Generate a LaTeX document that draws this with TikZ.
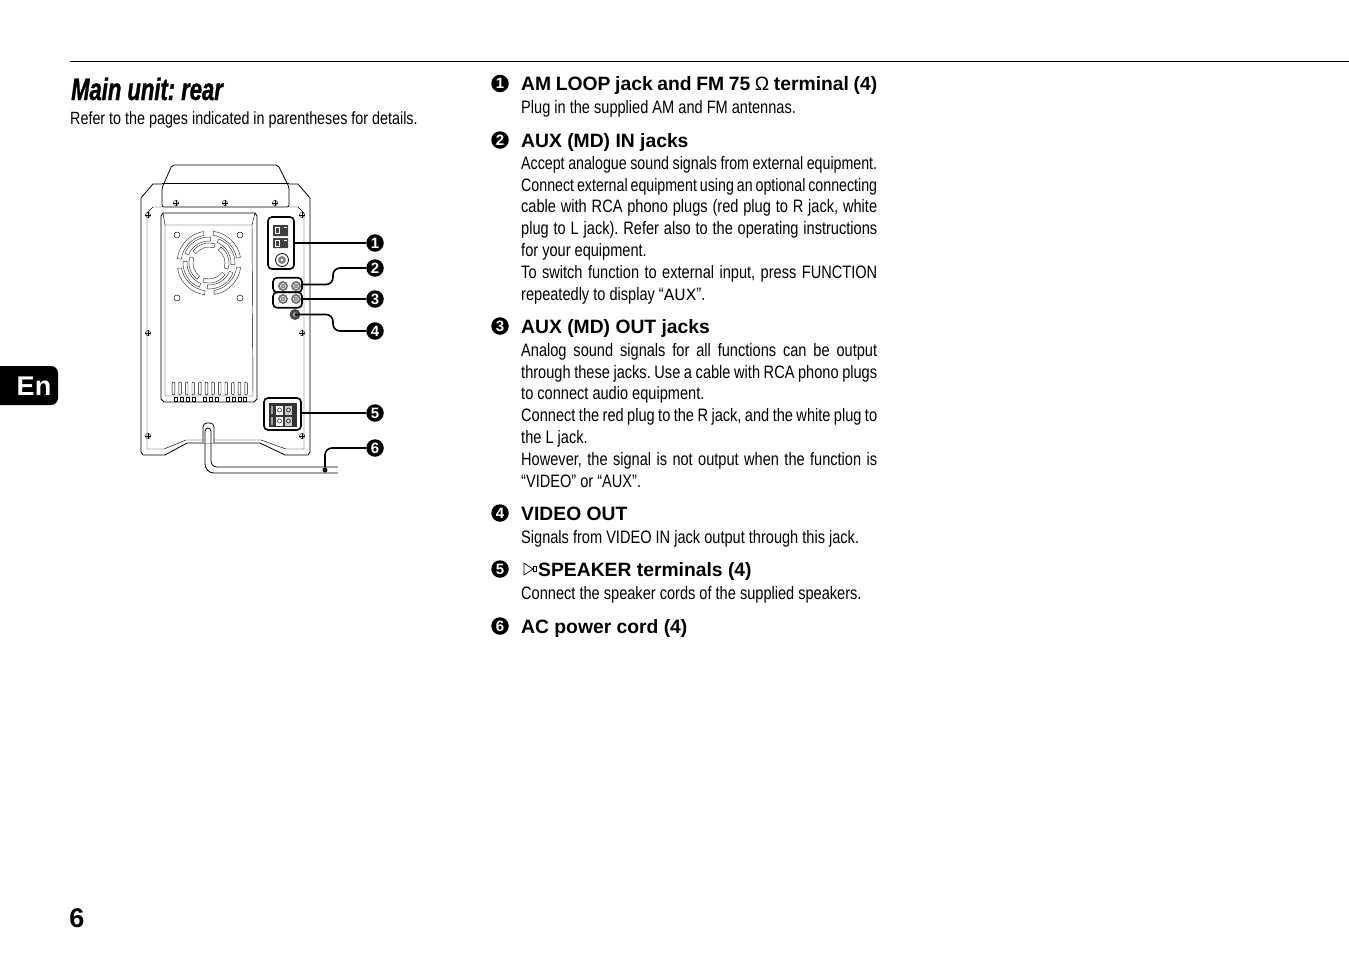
\documentclass[tikz,border=0pt]{standalone}
\usepackage{fontspec}
\setmainfont{Liberation Sans}
\newfontfamily\bodyfont[FakeStretch=0.81]{Liberation Sans}
\newfontfamily\tightfont[FakeStretch=0.79]{Liberation Sans}
\newfontfamily\titlefont[FakeStretch=0.71,BoldItalicFeatures={FakeBold=1}]{Liberation Sans}
\newfontfamily\lcdfont{DejaVu Sans}
\newcommand{\jline}[1]{\hbox to 356pt{\spaceskip=0.19em plus 2em minus 0.06em\relax #1}}
\frenchspacing
\tikzset{
    badge/.style={circle,fill=black,text=white,inner sep=0pt,minimum size=17.5pt,font=\fontsize{15}{15}\selectfont\bfseries},
    heading/.style={anchor=base west,inner sep=0pt,font=\fontsize{19.3}{22}\selectfont\bfseries},
    body/.style={anchor=north west,inner sep=0pt,align=left,font=\bodyfont\fontsize{18}{21.8}\selectfont},
    callout/.style={draw,line width=1.6pt,rounded corners=4pt},
    lead/.style={draw,line width=1.6pt,rounded corners=7pt},
    outline/.style={draw,line width=0.8pt,line join=round},
    thin line/.style={draw,line width=0.45pt,line join=round}
}
\begin{document}
\begin{tikzpicture}[x=1pt,y=-1pt]
    \useasboundingbox (0,0) rectangle (1349,954);
    \fill[white] (0,0) rectangle (1349,954);
    \draw[line width=0.8pt] (70,61.5) -- (1349,61.5);

    % page furniture
    \fill[black,rounded corners=7pt] (-10,366) rectangle (58,405);
    \node[text=white,font=\fontsize{27}{27}\selectfont\bfseries] (tab) at (34,386) {En};
    \node[font=\fontsize{27}{27}\selectfont\bfseries] (pagenum) at (77,918) {6};
    \node[anchor=base west,inner sep=0pt,font=\titlefont\fontsize{31}{31}\selectfont\bfseries\itshape] (title) at (71,100) {Main unit: rear};
    \node[anchor=base west,inner sep=0pt,font=\bodyfont\fontsize{17.7}{22}\selectfont] (intro) at (70,124) {Refer to the pages indicated in parentheses for details.};

    % main unit, outer shell
    \draw[outline] (162,184) -- (153,184) -- (141,198) -- (141,452) -- (143,455) -- (165,455) -- (187,443) -- (260,443) -- (285,455) -- (308,455) -- (310,452) -- (310,198) -- (298,184) -- (289,184);
    \draw[thin line] (162,207) -- (153,207) -- (147,213) -- (147,449) -- (164,449) -- (186,440) -- (261,440) -- (286,449) -- (304,449) -- (304,213) -- (298,207) -- (289,207);
    \draw[outline,rounded corners=2pt] (162,207) -- (162,188) -- (172,165) -- (278,165) -- (289,187) -- (289,207) -- cycle;
    \draw[thin line] (162,183) -- (289,183);
    \foreach \sx/\sy in {176/203,225/203,275/203,148/215,302/215,148/333,302/333,148/436,302/436} {
        \draw[line width=0.4pt] (\sx,\sy) circle (2.6);
        \draw[line width=0.4pt] (\sx-3.4,\sy) -- (\sx+3.4,\sy) (\sx,\sy-3.4) -- (\sx,\sy+3.4);
    }

    % rear panel
    \draw[outline] (163,213) -- (255,213) -- (257,216) -- (257,399) -- (254,402) -- (164,402) -- (161,399) -- (161,216) -- cycle;
    \draw[thin line] (165,225) -- (252,225) -- (253,396) -- (165,396) -- cycle;
    \draw[thin line] (163,213) -- (165,225) (255,213) -- (252,225);
    \foreach \hx/\hy in {177/235,240/235,177/298,240/298} {
        \draw[thin line] (\hx,\hy) circle (3);
    }
    \foreach \a in {0,90,180,270} {
        \foreach \ra/\rb/\off in {32/28/8,26/22/22,20/16/36} {
            \draw[thin line,black!80] ([shift={(\a+\off:\ra)}]209,263) arc[start angle=\a+\off,end angle=\a+\off+72,radius=\ra] -- ([shift={(\a+\off+72:\rb)}]209,263) arc[start angle=\a+\off+72,end angle=\a+\off,radius=\rb] -- cycle;
        }
    }
    \foreach \i in {0,...,11} {
        \draw[thin line,rounded corners=1pt] (172.2+\i*6.6,382) rectangle (174.8+\i*6.6,395);
    }
    \foreach \bx in {174,180,186,192,203,209,215,226,232,238,243} {
        \draw[thin line] (\bx,397.5) rectangle (\bx+3.6,401.5);
    }

    % antenna terminals
    \fill[black!75] (273,225) rectangle (288,236) (273,238) rectangle (288,248);
    \foreach \wy in {227,240} {
        \draw[white,line width=0.6pt] (275,\wy) rectangle (279,\wy+6);
        \draw[white,line width=0.6pt] (284,\wy) -- (287,\wy);
    }
    \draw[line width=0.8pt] (282,260) circle (6.5);
    \fill[black!50] (282,260) circle (4);
    \fill[white] (282,260) circle (1.4);
    \node[callout,minimum width=26pt,minimum height=52pt,inner sep=0pt] (amfm) at (281,243) {};

    % jacks
    \foreach \jx/\jy in {283/286,296/286,283/299,296/299} {
        \fill[black!55] (\jx,\jy) circle (5);
        \draw[white,line width=0.5pt] (\jx,\jy) circle (2.6);
        \fill[black!30] (\jx,\jy) circle (1.6);
    }
    \node[callout,minimum width=29pt,minimum height=14.5pt,inner sep=0pt] (auxin) at (287.5,285) {};
    \node[callout,minimum width=29pt,minimum height=15.5pt,inner sep=0pt] (auxout) at (287.5,300) {};
    \fill[black!70] (295,314.5) circle (5.5);
    \fill[black!35] (295,314.5) circle (2.2);
    \node[circle,fill=black,inner sep=0pt,minimum size=3pt] (video) at (296,314.5) {};

    % speaker terminals
    \fill[black!80] (269,403) rectangle (297,427);
    \foreach \ty in {410,421} {
        \fill[black!35] (271,\ty-4) rectangle (273,\ty+4);
        \fill[white] (276,\ty-4.5) rectangle (283,\ty+4.5);
        \draw[black!70,line width=0.7pt] (279.5,\ty) circle (2);
        \fill[black!20] (285,\ty-4.5) rectangle (292,\ty+4.5);
        \draw[black!80,line width=0.7pt] (288.5,\ty) circle (2);
    }
    \node[callout,minimum width=37pt,minimum height=32pt,inner sep=0pt] (speaker) at (282.5,414) {};

    % power cord
    \draw[outline,rounded corners=4pt,fill=white] (203,443) -- (203,423) -- (214,423) -- (214,443);
    \draw[outline,rounded corners=9pt] (205,431) -- (205,473) -- (338,473);
    \draw[outline,rounded corners=6pt] (211,431) -- (211,467) -- (338,467);
    \draw[outline] (205,431) arc[start angle=180,end angle=360,radius=3];
    \node[circle,fill=black,inner sep=0pt,minimum size=5pt] (cord) at (325,470) {};

    % left labels
    \node[badge] (la) at (375,243) {1};
    \node[badge] (lb) at (375,268) {2};
    \node[badge] (lc) at (375,299) {3};
    \node[badge] (ld) at (375,331) {4};
    \node[badge] (le) at (375,413) {5};
    \node[badge] (lf) at (375,448) {6};
    \draw[line width=1.6pt] (amfm.east |- la) -- (la);
    \draw[lead] (auxin.east |- 0,284.5) -- (333,284.5) -- (333,268) -- (lb);
    \draw[line width=1.6pt] (auxout.east |- lc) -- (lc);
    \draw[lead] (video) -- (333,314.5) -- (333,331) -- (ld);
    \draw[line width=1.6pt] (speaker.east |- le) -- (le);
    \draw[lead] (cord) -- (325,448) -- (lf);

    % text column
    \node[badge] (ra) at (500,83.5) {1};
    \node[heading] (ha) at (521,90) {\spaceskip=0.24em\relax AM LOOP jack and FM 75 {\mdseries Ω} terminal (4)};
    \node[body] (ta) at (521,100) {Plug in the supplied AM and FM antennas.};

    \node[badge] (rb) at (500,140) {2};
    \node[heading] (hb) at (521,147) {AUX (MD) IN jacks};
    \node[body] (tb) at (521,156) {\jline{\tightfont Accept analogue sound signals from external equipment.}\\
        \jline{\tightfont Connect external equipment using an optional connecting}\\
        \jline{cable with RCA phono plugs (red plug to R jack, white}\\
        \jline{plug to L jack). Refer also to the operating instructions}\\
        for your equipment.\\
        \jline{To switch function to external input, press FUNCTION}\\
        repeatedly to display “{\lcdfont\fontsize{15.5}{15.5}\selectfont AUX}”.};

    \node[badge] (rc) at (500,326) {3};
    \node[heading] (hc) at (521,333) {AUX (MD) OUT jacks};
    \node[body] (tc) at (521,343) {\jline{Analog sound signals for all functions can be output}\\
        \jline{through these jacks. Use a cable with RCA phono plugs}\\
        to connect audio equipment.\\
        \jline{Connect the red plug to the R jack, and the white plug to}\\
        the L jack.\\
        \jline{However, the signal is not output when the function is}\\
        “VIDEO” or “AUX”.};

    \node[badge] (rd) at (500,513) {4};
    \node[heading] (hd) at (521,520) {VIDEO OUT};
    \node[body] (td) at (521,530) {Signals from VIDEO IN jack output through this jack.};

    \node[badge] (re) at (500,569) {5};
    \draw[line width=0.7pt,line join=round] (524,563) -- (533,569) -- (524,575) -- cycle;
    \draw[line width=0.7pt] (533,566.5) rectangle (536.5,571.5);
    \node[heading] (he) at (538,576) {SPEAKER terminals (4)};
    \node[body] (te) at (521,586) {Connect the speaker cords of the supplied speakers.};

    \node[badge] (rf) at (500,626) {6};
    \node[heading] (hf) at (521,633) {AC power cord (4)};
\end{tikzpicture}
\end{document}
